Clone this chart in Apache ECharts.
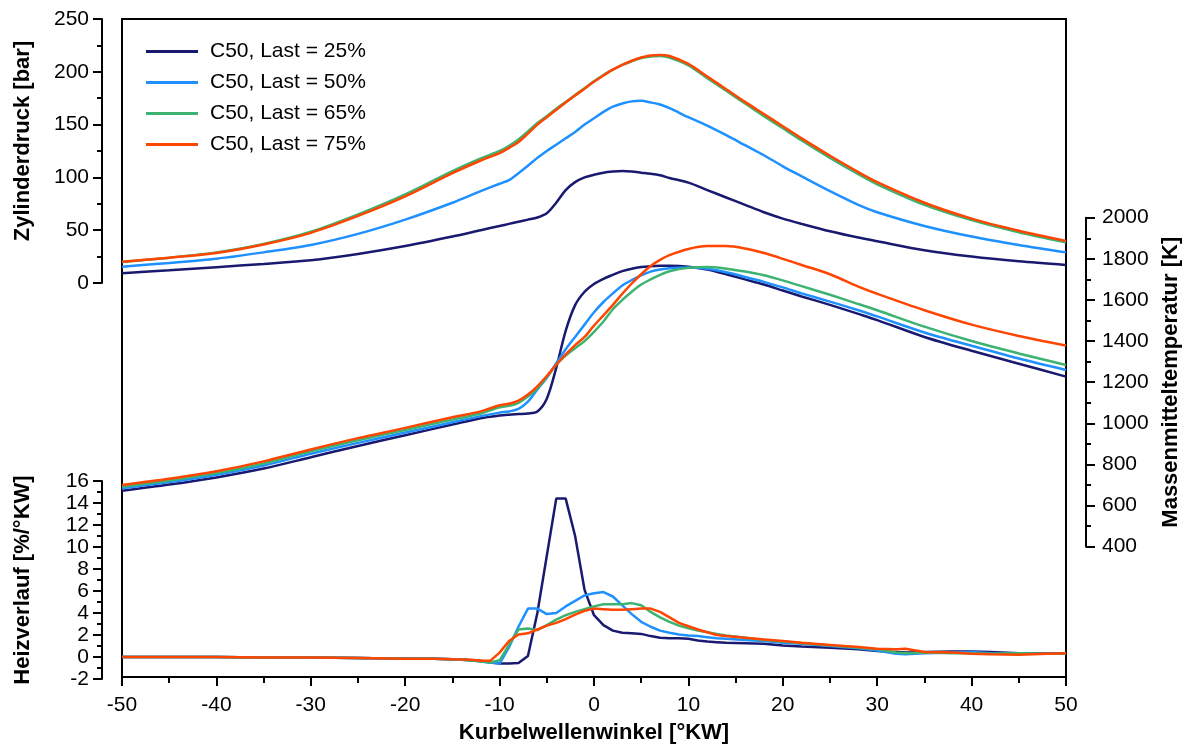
<!DOCTYPE html>
<html><head><meta charset="utf-8">
<script src="https://cdn.jsdelivr.net/npm/echarts@6/dist/echarts.min.js"></script>
<style>html,body{margin:0;padding:0;background:#fff}#c{width:1190px;height:749px}</style>
</head><body><div id="c"></div>
<script>
// ---------- data ----------
const seriesNames = ['C50, Last = 25%', 'C50, Last = 50%', 'C50, Last = 65%', 'C50, Last = 75%'];

// crank angle grid for pressure & temperature [°KW]
const angle = [-50,-45,-40,-35,-30,-25,-20,-15,-12,-10,-9,-8,-7,-6,-5,-4,-3,-2,-1,0,1,2,3,4,5,6,7,8,10,12,14,16,18,20,22,25,28,30,35,40,45,50];

// Zylinderdruck [bar]
const p25 = [9.2,12,15,18,21.5,27.5,35,44,50,54,56,58,60,62,66,76,88,95.5,100,102.5,104.5,105.5,106,105.5,104.5,103.5,102,99.5,95,88,81,74,67,61,56,49,43,39.5,31,25,20.5,17];
const p50 = [15.5,19,23,29,36,46.5,60,76,87,94,97.5,104,111,118.5,125,131,137,143,150,156,162,167,170,172,172.5,171,169,165.5,157,149,140,130.5,121,110.5,101,87,74,67,54,44,36,29];
const p65 = [20,24,29,37,48.5,65,84,106,118,125,130,136,143.5,151.5,158,165,171.5,178,184.5,191,197,202,206.5,210,213,214.5,215,213.5,206,194,182,170,158,146.5,135,118.5,103,93.5,74,59.5,48,38.5];
const p75 = [20.2,24,28.5,36.5,47.5,63.5,82,104,116,123,128,133.5,141.5,150,157,164,171,177.5,184,190.5,196.5,202,206.5,210.5,213.5,215.5,216,215,207.5,195.5,183.5,171.5,160,148.5,137,120.5,105,95.5,76,61,49.5,39.8];

// Massenmitteltemperatur [K]
const t25 = [672,702,737,780,835,890,942,994,1025,1038,1042,1045,1048,1058,1120,1270,1450,1575,1640,1678,1703,1722,1740,1752,1760,1764,1766,1766,1762,1748,1725,1700,1675,1646,1617,1576,1532,1502,1420,1353,1290,1227];
const t50 = [684,714,750,795,852,905,955,1005,1035,1052,1058,1070,1105,1165,1222,1292,1360,1420,1480,1540,1590,1632,1670,1697,1720,1738,1748,1754,1758,1752,1735,1712,1688,1661,1632,1592,1550,1520,1442,1377,1315,1259];
const t65 = [692,722,758,805,864,918,968,1018,1048,1078,1085,1100,1130,1170,1225,1285,1330,1365,1400,1445,1495,1555,1600,1640,1675,1700,1722,1740,1756,1760,1752,1738,1720,1695,1667,1625,1580,1550,1470,1400,1340,1284];
const t75 = [700,730,767,815,873,928,978,1030,1058,1088,1095,1110,1140,1180,1230,1285,1335,1380,1420,1475,1525,1576,1630,1680,1725,1765,1795,1818,1848,1862,1862,1850,1828,1800,1770,1725,1665,1630,1550,1480,1425,1378];

// crank angle grid for heat release
const heizAngle = [-50,-45,-40,-35,-30,-25,-20,-17,-15,-13,-12,-11,-10,-9,-8,-7,-6,-5,-4,-3,-2,-1,0,1,2,3,4,5,6,7,8,9,10,11,12,13,14,16,18,20,22,25,28,30,32,33,35,38,40,42,45,48,50];

// Heizverlauf [%/°KW]
const h25 = [0,0,0,-0.05,-0.05,-0.1,-0.15,-0.15,-0.2,-0.3,-0.35,-0.5,-0.6,-0.6,-0.55,0.1,4.0,9.2,14.4,14.4,11,6.1,3.8,2.9,2.4,2.2,2.15,2.1,1.9,1.75,1.7,1.7,1.65,1.5,1.4,1.35,1.3,1.25,1.2,1.05,0.95,0.85,0.7,0.55,0.45,0.4,0.45,0.5,0.5,0.45,0.35,0.35,0.33];
const h50 = [0,0,0,-0.05,-0.05,-0.1,-0.15,-0.15,-0.2,-0.3,-0.4,-0.5,-0.6,0.9,2.75,4.4,4.4,3.9,4.0,4.6,5.1,5.6,5.8,5.9,5.5,4.7,3.9,3.2,2.75,2.4,2.2,2.05,1.95,1.9,1.8,1.7,1.65,1.55,1.45,1.3,1.2,1.0,0.8,0.6,0.3,0.25,0.35,0.4,0.45,0.35,0.3,0.3,0.3];
const h65 = [0,0,0,-0.05,-0.05,-0.1,-0.15,-0.15,-0.2,-0.3,-0.4,-0.5,-0.3,1.1,2.5,2.6,2.45,2.9,3.4,3.8,4.1,4.35,4.6,4.8,4.8,4.8,4.9,4.7,4.1,3.6,3.2,2.85,2.6,2.4,2.25,2.1,1.95,1.75,1.55,1.4,1.25,1.05,0.85,0.7,0.4,0.35,0.4,0.35,0.35,0.3,0.35,0.3,0.3];
const h75 = [0,0,0,-0.05,-0.05,-0.1,-0.15,-0.15,-0.2,-0.25,-0.35,-0.35,0.4,1.45,2.05,2.15,2.5,2.85,3.1,3.45,3.85,4.2,4.4,4.35,4.3,4.3,4.35,4.4,4.4,4.1,3.6,3.1,2.8,2.5,2.25,2.0,1.9,1.75,1.6,1.45,1.3,1.1,0.9,0.75,0.7,0.75,0.45,0.4,0.3,0.25,0.2,0.3,0.35];

// ---------- styling ----------
const colors = ['#191970', '#1e90ff', '#3cb371', '#ff4500'];
const FONT = 'Liberation Sans, Arial, Helvetica, sans-serif';
const black = '#000';

const pressure = [p25, p50, p65, p75];
const temperature = [t25, t50, t65, t75];
const heat = [h25, h50, h65, h75];

const L = 122, W = 944;
function pairs(xs, ys) { return xs.map((x, i) => [x, ys[i]]); }

function yAx(grid, pos, min, max, interval, name, gap, labelMargin, namePad) {
  return {
    type: 'value', gridIndex: grid, position: pos, offset: 20, min: min, max: max, interval: interval,
    axisLine: { show: true, onZero: false, lineStyle: { color: black, width: 2 } },
    axisTick: { show: true, inside: false, length: 9, lineStyle: { color: black, width: 2 } },
    minorTick: { show: true, splitNumber: 2, length: 5, lineStyle: { color: black, width: 2 } },
    axisLabel: { color: black, fontSize: 21, fontFamily: FONT, margin: labelMargin, formatter: v => String(v) },
    splitLine: { show: false }, minorSplitLine: { show: false },
    name: name, nameLocation: 'middle', nameGap: gap,
    nameTextStyle: { color: black, fontSize: 22, fontWeight: 'bold', fontFamily: FONT, padding: namePad || 0 }
  };
}
function hiddenX(grid) {
  return { type: 'value', gridIndex: grid, min: -50, max: 50, show: false };
}

const series = [];
function addSeries(xIdx, xs, groups, smooth) {
  seriesNames.forEach((n, k) => {
    series.push({ name: n, type: 'line', xAxisIndex: xIdx, yAxisIndex: xIdx, data: pairs(xs, groups[k]),
      showSymbol: false, symbol: 'none', smooth: smooth,
      lineStyle: { color: colors[k], width: 2.5 }, itemStyle: { color: colors[k] }, z: 3 + k });
  });
}
addSeries(1, angle, pressure, 0.3);
addSeries(2, angle, temperature, 0.3);
addSeries(3, heizAngle, heat, false);

const option = {
  animation: false,
  backgroundColor: '#fff',
  textStyle: { fontFamily: FONT },
  grid: [
    { left: L, top: 19, width: W, height: 660, show: true, borderColor: black, borderWidth: 2, backgroundColor: 'transparent' },
    { left: L, top: 19, width: W, height: 264 },
    { left: L, top: 217.7, width: W, height: 329 },
    { left: L, top: 481, width: W, height: 198 }
  ],
  xAxis: [
    { type: 'value', gridIndex: 0, min: -50, max: 50, interval: 10, position: 'bottom',
      axisLine: { show: true, onZero: false, lineStyle: { color: black, width: 2 } },
      axisTick: { show: true, inside: false, length: 9, lineStyle: { color: black, width: 2 } },
      minorTick: { show: true, splitNumber: 2, length: 6, lineStyle: { color: black, width: 2 } },
      axisLabel: { color: black, fontSize: 21, fontFamily: FONT, margin: 18 },
      splitLine: { show: false }, minorSplitLine: { show: false },
      name: 'Kurbelwellenwinkel [°KW]', nameLocation: 'middle', nameGap: 45,
      nameTextStyle: { color: black, fontSize: 22, fontWeight: 'bold', fontFamily: FONT } },
    hiddenX(1), hiddenX(2), hiddenX(3)
  ],
  yAxis: [
    { type: 'value', gridIndex: 0, min: 0, max: 1, show: false },
    yAx(1, 'left', 0, 250, 50, 'Zylinderdruck [bar]', 68, 13, [0, 0, 0, 20]),
    yAx(2, 'right', 400, 2000, 200, 'Massenmitteltemperatur [K]', 74, 16),
    yAx(3, 'left', -2, 16, 2, 'Heizverlauf [%/°KW]', 68, 13)
  ],
  legend: {
    show: true, orient: 'vertical', left: 146, top: 41, padding: 0,
    icon: 'rect', itemWidth: 52, itemHeight: 3, itemGap: 10,
    data: seriesNames,
    textStyle: { color: black, fontSize: 21, fontFamily: FONT, padding: [0, 0, 0, 7] },
    selectedMode: false
  },
  series: series
};

const chart = echarts.init(document.getElementById('c'), null, { renderer: 'canvas' });
chart.setOption(option);
</script>
</body></html>
